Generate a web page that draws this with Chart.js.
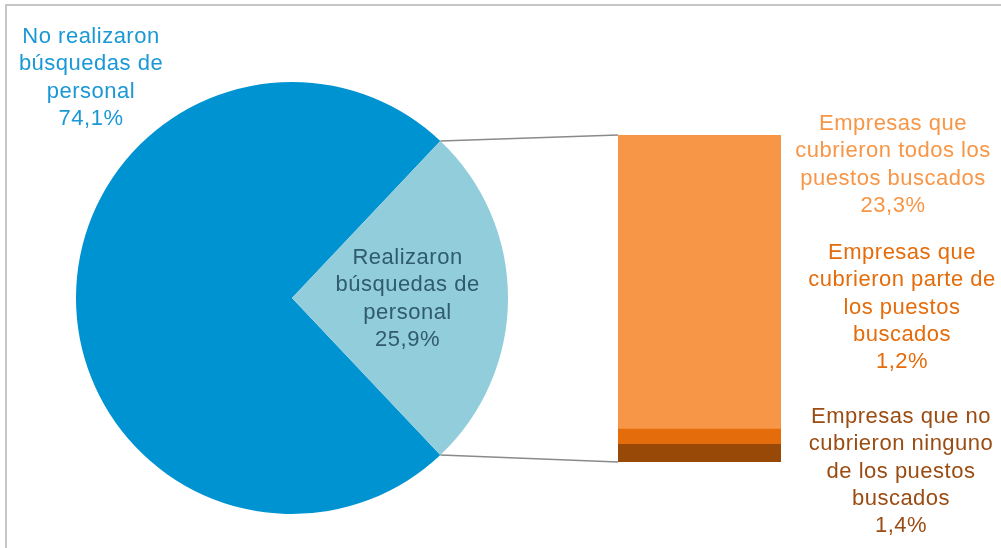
<!DOCTYPE html>
<html>
<head>
<meta charset="utf-8">
<script src="https://cdn.jsdelivr.net/npm/chart.js@4/dist/chart.umd.min.js"></script>
<style>
  html, body { margin: 0; padding: 0; background: #fff; overflow: hidden; }
  #wrap { position: relative; width: 1001px; height: 548px; }
  #wrap canvas { position: absolute; left: 0; top: 0; }
  #marco { position: absolute; left: 5px; top: 4px; width: 1100px; height: 700px;
           border-left: 2px solid #c6c6c6; border-top: 2px solid #c6c6c6; }
</style>
</head>
<body>
<div id="wrap">
  <div id="marco"></div>
  <canvas id="torta" width="1001" height="548"></canvas>
  <canvas id="barra" width="1001" height="548"></canvas>
</div>
<script>
// datos
const categoriasTorta = [
  ["No realizaron", "búsquedas de", "personal"],
  ["Realizaron", "búsquedas de", "personal"]
];
const valoresTorta = [74.1, 25.9];
const coloresTorta = ["#0093d1", "#92cddc"];
const coloresTextoTorta = ["#1a98d5", "#2f5b6c"];

const categoriasBarra = [
  ["Empresas que no", "cubrieron ninguno", "de los puestos", "buscados"],
  ["Empresas que", "cubrieron parte de", "los puestos", "buscados"],
  ["Empresas que", "cubrieron todos los", "puestos buscados"]
];
const valoresBarra = [1.4, 1.2, 23.3];
const coloresBarra = ["#984807", "#e46c0a", "#f79646"];
const coloresTextoBarra = ["#9a4c12", "#e46c0a", "#f79646"];

const fmt = v => v.toFixed(1).replace(".", ",") + "%";
const FUENTE = "22px 'Liberation Sans', Arial, sans-serif";
const INTERLINEA = 27.3;

function escribir(ctx, lineas, x, y, color) {
  ctx.save();
  ctx.font = FUENTE;
  ctx.letterSpacing = "0.5px";
  ctx.fillStyle = color;
  ctx.textAlign = "center";
  ctx.textBaseline = "middle";
  lineas.forEach((l, i) => ctx.fillText(l, x, y + i * INTERLINEA));
  ctx.restore();
}

// torta
const rebanada = valoresTorta[1] / valoresTorta.reduce((a, b) => a + b, 0);
const torta = new Chart(document.getElementById("torta"), {
  type: "pie",
  data: {
    labels: categoriasTorta.map(c => c.join(" ")),
    datasets: [{
      data: valoresTorta,
      backgroundColor: coloresTorta,
      borderWidth: 0
    }]
  },
  options: {
    responsive: false,
    animation: false,
    rotation: 90 + rebanada * 180,
    layout: { padding: { left: 76, top: 82, right: 493, bottom: 34 } },
    plugins: { legend: { display: false }, tooltip: { enabled: false } }
  },
  plugins: [{
    id: "etiquetasTorta",
    afterDraw(chart) {
      const ctx = chart.ctx;
      const arcos = chart.getDatasetMeta(0).data;
      // etiqueta exterior
      escribir(ctx, [...categoriasTorta[0], fmt(valoresTorta[0])], 91, 37, coloresTextoTorta[0]);
      // etiqueta interior
      const a = arcos[1];
      const medio = (a.startAngle + a.endAngle) / 2;
      const x = a.x + a.outerRadius * 0.535 * Math.cos(medio);
      const y = a.y + a.outerRadius * 0.535 * Math.sin(medio);
      escribir(ctx, [...categoriasTorta[1], fmt(valoresTorta[1])], x, y - 1.5 * INTERLINEA + 1, coloresTextoTorta[1]);
    }
  }]
});

// barra
const total = valoresBarra.reduce((a, b) => a + b, 0);
new Chart(document.getElementById("barra"), {
  type: "bar",
  data: {
    labels: [""],
    datasets: valoresBarra.map((v, i) => ({
      label: categoriasBarra[i].join(" "),
      data: [v],
      backgroundColor: coloresBarra[i],
      borderWidth: 0,
      barPercentage: 1,
      categoryPercentage: 1
    }))
  },
  options: {
    responsive: false,
    animation: false,
    layout: { padding: { left: 618, top: 135, right: 220, bottom: 86 } },
    scales: {
      x: { display: false, stacked: true },
      y: { display: false, stacked: true, min: 0, max: total }
    },
    plugins: { legend: { display: false }, tooltip: { enabled: false } }
  },
  plugins: [{
    id: "conectores",
    afterDraw(chart) {
      const ctx = chart.ctx;
      const arco = torta.getDatasetMeta(0).data[1];
      const arriba = chart.getDatasetMeta(valoresBarra.length - 1).data[0];
      const abajo = chart.getDatasetMeta(0).data[0];
      const izq = arriba.x - arriba.width / 2;
      const der = arriba.x + arriba.width / 2;
      const r = arco.outerRadius;
      ctx.save();
      ctx.strokeStyle = "#8a8a8a";
      ctx.lineWidth = 1.5;
      ctx.beginPath();
      ctx.moveTo(arco.x + r * Math.cos(arco.startAngle), arco.y + r * Math.sin(arco.startAngle));
      ctx.lineTo(izq, arriba.y);
      ctx.moveTo(arco.x + r * Math.cos(arco.endAngle), arco.y + r * Math.sin(arco.endAngle));
      ctx.lineTo(izq, abajo.base);
      ctx.stroke();
      ctx.restore();

      // etiquetas de la barra
      escribir(ctx, [...categoriasBarra[2], fmt(valoresBarra[2])], der + 112, 124, coloresTextoBarra[2]);
      escribir(ctx, [...categoriasBarra[1], fmt(valoresBarra[1])], der + 121, 253, coloresTextoBarra[1]);
      escribir(ctx, [...categoriasBarra[0], fmt(valoresBarra[0])], der + 120, 417, coloresTextoBarra[0]);
    }
  }]
});
</script>
</body>
</html>
